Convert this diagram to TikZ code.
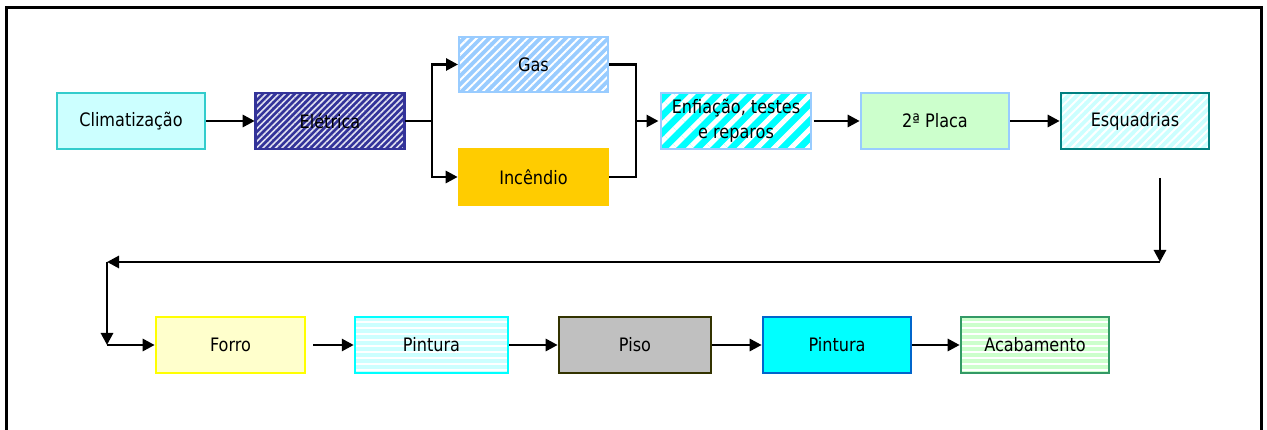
\documentclass[tikz,border=0pt]{standalone}
\usepackage{fontspec}
\setmainfont{DejaVu Sans}[FakeStretch=0.87]
\usetikzlibrary{arrows.meta,patterns.meta}
\definecolor{climB}{HTML}{33CCCC}
\definecolor{climF}{HTML}{CCFFFF}
\definecolor{eletC}{HTML}{333399}
\definecolor{gasC}{HTML}{99CCFF}
\definecolor{incC}{HTML}{FFCC00}
\definecolor{cyanC}{HTML}{00FFFF}
\definecolor{placaF}{HTML}{CCFFCC}
\definecolor{esqB}{HTML}{008080}
\definecolor{forroB}{HTML}{FFFF00}
\definecolor{forroF}{HTML}{FFFFCC}
\definecolor{pisoB}{HTML}{333300}
\definecolor{pisoF}{HTML}{C0C0C0}
\definecolor{pintB}{HTML}{0066CC}
\definecolor{acabB}{HTML}{339966}
\tikzset{
  box/.style={rectangle, line width=2.6pt, minimum width=148pt, minimum height=56pt,
    inner sep=0pt, align=center, font=\fontsize{18.5}{25}\selectfont},
  diag/.style n args={4}{preaction={fill=#1},
    pattern={Lines[angle=45,distance=#2,line width=#3]}, pattern color=#4},
  horiz/.style n args={3}{preaction={fill=#1},
    pattern={Lines[angle=0,distance=#2,line width=#3]}, pattern color=white},
  conn/.style={line width=2.8pt, -{Triangle[length=12pt,width=12pt]}},
  seg/.style={line width=2.8pt},
}
\begin{document}
\begin{tikzpicture}[x=1pt,y=-1pt]
\useasboundingbox (0,0) rectangle (1267,430);
\draw[line width=3.2pt] (6.5,436) -- (6.5,7.5) -- (1261.5,7.5) -- (1261.5,436);

\node[box, draw=climB, fill=climF] (clim) at (131,121) {Climatização};
\node[box, draw=eletC, minimum width=149pt, diag={eletC}{4.5pt}{1.6pt}{white!85!eletC}] (elet) at (330,121) {Elétrica};
\node[box, draw=gasC, minimum width=149pt, minimum height=55pt, diag={gasC}{6pt}{2pt}{white}] (gas) at (533.5,64.5) {Gas};
\node[box, draw=incC, fill=incC, minimum width=149pt] (inc) at (533.5,177) {Incêndio};
\node[box, draw=gasC, minimum width=150pt, diag={cyanC}{12pt}{5pt}{white}] (enf) at (736,121) {Enfiação, testes\\e reparos};
\node[box, draw=gasC, fill=placaF] (placa) at (935,121) {2ª Placa};
\node[box, draw=esqB, diag={climF}{6pt}{2pt}{white}] (esq) at (1135,121) {Esquadrias};

\node[box, draw=forroB, fill=forroF, minimum width=149pt] (forro) at (230.5,345) {Forro};
\node[box, draw=cyanC, minimum width=153pt, horiz={climF}{6pt}{2.5pt}] (pint1) at (431.5,345) {Pintura};
\node[box, draw=pisoB, fill=pisoF, minimum width=152pt] (piso) at (635,345) {Piso};
\node[box, draw=pintB, fill=cyanC] (pint2) at (837,345) {Pintura};
\node[box, draw=acabB, horiz={placaF}{6pt}{2.5pt}] (acab) at (1035,345) {Acabamento};

% top row connectors
\draw[conn] (clim) -- (elet);
\coordinate (b1) at (432,121);
\coordinate (b1t) at (432,64.5);
\coordinate (b1b) at (432,177);
\draw[seg] (elet.east) -- (b1);
\draw[seg, line cap=rect] (b1t) -- (b1b);
\draw[conn] (b1t) -- (gas.west);
\draw[conn] (b1b) -- (inc.west);
\coordinate (b2) at (636,121);
\draw[seg, line join=miter] (gas.east) -| (b2);
\draw[seg, line join=miter] (inc.east) -| (b2);
\draw[conn] (b2) -- (enf.west);
\draw[conn] (enf) -- (placa);
\draw[conn] (placa) -- (esq);

% return connector
\coordinate (r1) at (1160,178);
\coordinate (r2) at (1160,262);
\coordinate (r3) at (107,262);
\coordinate (r4) at (107,345);
\draw[conn] (r1) -- (r2);
\draw[conn] (r2) -- (r3);
\draw[conn] (r3) -- (r4);
\draw[conn] (r4) -- (forro.west);

% bottom row
\coordinate (f1) at (313,345);
\draw[conn] (f1) -- (pint1.west);
\draw[conn] (pint1) -- (piso);
\draw[conn] (piso) -- (pint2);
\draw[conn] (pint2) -- (acab);
\end{tikzpicture}
\end{document}
